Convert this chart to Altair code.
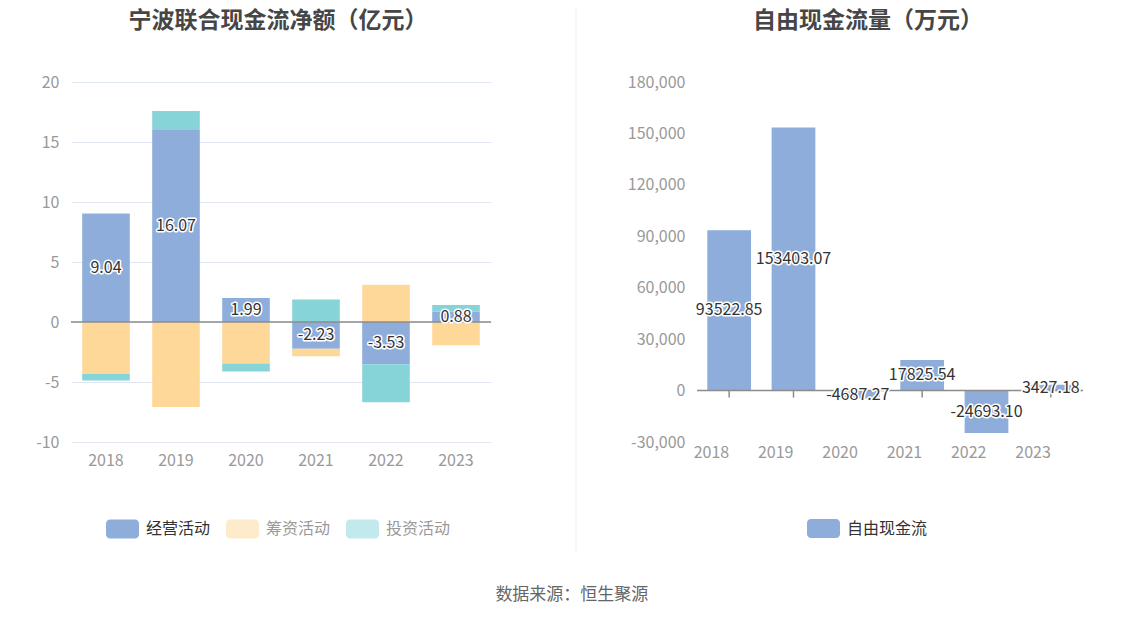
import altair as alt
import pandas as pd

years = ["2018", "2019", "2020", "2021", "2022", "2023"]
operating = [9.04, 16.07, 1.99, -2.23, -3.53, 0.88]
financing = [-4.34, -7.08, -3.46, -0.62, 3.10, -1.94]
investing = [-0.53, 1.52, -0.66, 1.88, -3.16, 0.53]
series_names = ["经营活动", "筹资活动", "投资活动"]
series_colors = ["#8eaddb", "#fed899", "#86d4d8"]
fcf = [93522.85, 153403.07, -4687.27, 17825.54, -24693.10, 3427.18]
left_ticks = [-10, -5, 0, 5, 10, 15, 20]
right_ticks = [-30000, 0, 30000, 60000, 90000, 120000, 150000, 180000]

FONT = "Noto Sans CJK SC"
W1, W2, H = 420, 386, 360
MINUS = "\u2212"

rows = []
for i, y in enumerate(years):
    for k, (name, vals) in enumerate(zip(series_names, [operating, financing, investing])):
        rows.append({"year": y, "series": name, "value": vals[i], "idx": k})
df = pd.DataFrame(rows)
df_op = pd.DataFrame({"year": years, "value": operating})
df_fcf = pd.DataFrame({"year": years, "value": fcf, "series": ["自由现金流"] * len(years)})
dummy = pd.DataFrame({"z": [0]})

RR = ("M-0.76,-0.576 H0.76 A0.24,0.24 0 0 1 1,-0.336 V0.336 A0.24,0.24 0 0 1 0.76,0.576 "
      "H-0.76 A0.24,0.24 0 0 1 -1,0.336 V-0.336 A0.24,0.24 0 0 1 -0.76,-0.576 Z")
LAB_EXPR = f"replace(format(datum.value, '.2f'), '{MINUS}', '-')"

def xaxis():
    return alt.Axis(title=None, domain=False, ticks=False, labelAngle=0, labelFontSize=16,
                    labelColor="#999999", labelPadding=10, grid=False, labelFont=FONT)

def yaxis(vals, fmt, minext):
    return alt.Axis(title=None, values=vals, format=fmt, domain=False, ticks=False,
                    gridColor="#e0e6f1", labelFontSize=16, labelColor="#999999",
                    labelPadding=12, minExtent=minext, labelFont=FONT,
                    labelExpr=f"replace(datum.label, '{MINUS}', '-')")

xscale = alt.Scale(paddingInner=0.32, paddingOuter=0.16)

def legend(x, y, first):
    return alt.Legend(
        title=None, orient="none", legendX=x, legendY=y, direction="horizontal",
        symbolType=RR, symbolSize=1089, symbolStrokeWidth=0,
        symbolOpacity={"expr": f"datum.value === '{first}' ? 1 : 0.5"},
        labelColor={"expr": f"datum.value === '{first}' ? '#333333' : '#999999'"},
        labelFontSize=16, labelFont=FONT, labelOffset=7, columnPadding=15, padding=0,
    )

def title(text, dx):
    return alt.TitleParams(text, fontSize=23, font=FONT, fontWeight="bold", color="#464646",
                           anchor="middle", frame="group", dx=dx, offset=18, baseline="bottom")

# ---------- left panel ----------
bars = alt.Chart(df).mark_bar().encode(
    x=alt.X("year:N", sort=years, scale=xscale, axis=xaxis()),
    y=alt.Y("value:Q", stack="zero", scale=alt.Scale(domain=[-10, 20], nice=False),
            axis=yaxis(left_ticks, "d", 63)),
    color=alt.Color("series:N", scale=alt.Scale(domain=series_names, range=series_colors),
                    legend=legend(35, 430, "经营活动")),
    order=alt.Order("idx:Q"),
)
zero_l = alt.Chart(dummy).mark_rule(color="#8c8c8c", strokeWidth=1.5).encode(y="z:Q")
lab_l = alt.Chart(df_op).transform_calculate(mid="datum.value/2", lab=LAB_EXPR)
halo_l = lab_l.mark_text(fontSize=16, font=FONT, fill="white", stroke="white", strokeWidth=3,
                         strokeJoin="round").encode(x=alt.X("year:N", sort=years), y="mid:Q", text="lab:N")
txt_l = lab_l.mark_text(fontSize=16, font=FONT, fill="#333333").encode(
    x=alt.X("year:N", sort=years), y="mid:Q", text="lab:N")

left = alt.layer(bars, zero_l, halo_l, txt_l).properties(
    width=W1, height=H, title=title("宁波联合现金流净额（亿元）", -3))

# ---------- divider ----------
divider = alt.Chart(dummy).mark_rule(color="#eeeeee", strokeWidth=1).encode(
    x=alt.value(84), y=alt.value(-73), y2=alt.value(469)).properties(width=133, height=H)

# ---------- right panel ----------
ticks_r = alt.Chart(df_fcf).mark_rule(color="#8c8c8c", strokeWidth=1.5, y2Offset=7).encode(
    x=alt.X("year:N", sort=years), y=alt.datum(0), y2=alt.datum(0))
bars_r = alt.Chart(df_fcf).mark_bar().encode(
    x=alt.X("year:N", sort=years, scale=xscale, axis=xaxis()),
    y=alt.Y("value:Q", scale=alt.Scale(domain=[-30000, 180000], nice=False),
            axis=yaxis(right_ticks, ",d", 72)),
    color=alt.Color("series:N", scale=alt.Scale(domain=["自由现金流"], range=["#8eaddb"]),
                    legend=legend(110, 430, "自由现金流")),
)
zero_r = alt.Chart(dummy).mark_rule(color="#8c8c8c", strokeWidth=1.5).encode(y="z:Q")
lab_r = alt.Chart(df_fcf).transform_calculate(mid="datum.value/2", lab=LAB_EXPR)
halo_r = lab_r.mark_text(fontSize=16, font=FONT, fill="white", stroke="white", strokeWidth=3,
                         strokeJoin="round").encode(x=alt.X("year:N", sort=years), y="mid:Q", text="lab:N")
txt_r = lab_r.mark_text(fontSize=16, font=FONT, fill="#333333").encode(
    x=alt.X("year:N", sort=years), y="mid:Q", text="lab:N")

right = alt.layer(ticks_r, bars_r, zero_r, halo_r, txt_r).properties(
    width=W2, height=H, title=title("自由现金流量（万元）", -22))

chart = alt.hconcat(left, divider, right, spacing=0).resolve_scale(color="independent").properties(
    padding=0, background="white",
    title=alt.TitleParams("数据来源：恒生聚源", orient="bottom", anchor="middle", fontSize=17,
                          font=FONT, fontWeight="normal", color="#666666", dx=26, offset=35),
).configure_view(strokeWidth=0, stroke="transparent")

chart.save("out.html", embed_options={"renderer": "svg", "actions": False})
